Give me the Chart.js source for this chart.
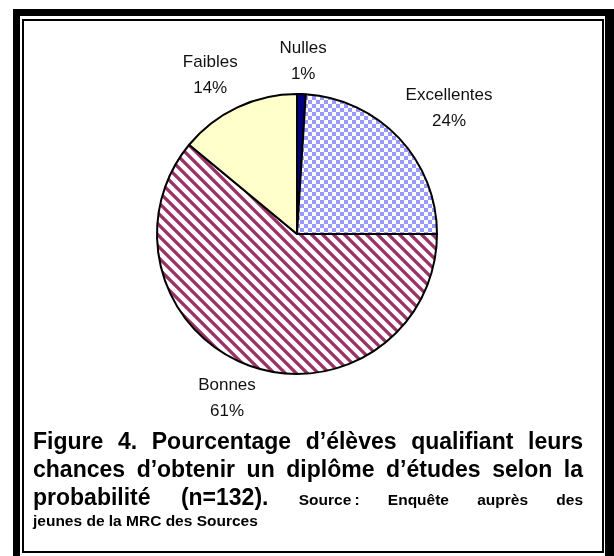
<!DOCTYPE html>
<html lang="fr">
<head>
<meta charset="utf-8">
<script src="https://cdn.jsdelivr.net/npm/chart.js@4.4.1/dist/chart.umd.min.js"></script>
<style>
  html, body { margin: 0; padding: 0; background: #fff; }
  body { width: 614px; height: 556px; position: relative; overflow: hidden; font-family: 'Liberation Sans', Arial, sans-serif; }
  .frame-outer { position: absolute; left: 13px; top: 9px; width: 610px; height: 560px; background: #000; }
  .frame-inner { position: absolute; left: 20px; top: 16px; width: 585px; height: 560px; background: #fff; }
  .frame-line { position: absolute; left: 22px; top: 19px; width: 578px; height: 530px; border: 2px solid #000; }
  .chart-wrap { position: absolute; left: 0; top: 0; width: 614px; height: 468px; }
  .caption { position: absolute; left: 33px; top: 427px; width: 550px; font-weight: bold; color: #000; }
  .caption .ln { font-size: 23px; line-height: 28px; height: 28px; text-align: justify; text-align-last: justify; }
  .caption .sm { font-size: 15.5px; }
  .caption .last { font-size: 15.5px; line-height: 20px; text-align: left; }
</style>
</head>
<body>
<div class="frame-outer"></div>
<div class="frame-inner"></div>
<div class="frame-line"></div>
<div class="chart-wrap"><canvas id="pieChart"></canvas></div>
<div class="caption">
  <div class="ln">Figure 4. Pourcentage d’élèves qualifiant leurs</div>
  <div class="ln">chances d’obtenir un diplôme d’études selon la</div>
  <div class="ln">probabilité (n=132). <span class="sm">Source&#8239;: Enquête auprès des</span></div>
  <div class="last">jeunes de la MRC des Sources</div>
</div>
<script>
// Data (clockwise from 12 o'clock)
const categories = ['Nulles', 'Excellentes', 'Bonnes', 'Faibles'];
const shares = [1, 24, 61, 14];

const lineGap = 26;

// 4px blue / white checkerboard
function checkerPattern(ctx) {
  const c = document.createElement('canvas');
  c.width = 8; c.height = 8;
  const g = c.getContext('2d');
  g.fillStyle = '#fff';
  g.fillRect(0, 0, 8, 8);
  g.fillStyle = '#9999ff';
  g.fillRect(0, 0, 4, 4);
  g.fillRect(4, 4, 4, 4);
  return ctx.createPattern(c, 'repeat');
}

// maroon diagonal stripes running down-right
function stripePattern(ctx) {
  const s = 11;
  const c = document.createElement('canvas');
  c.width = s; c.height = s;
  const g = c.getContext('2d');
  const img = g.createImageData(s, s);
  for (let y = 0; y < s; y++) {
    for (let x = 0; x < s; x++) {
      const d = (((x - y) % s) + s) % s;
      const perp = Math.min(d, s - d) / Math.SQRT2;
      const a = Math.max(0, Math.min(1, 2.2 - perp));
      const i = (y * s + x) * 4;
      img.data[i] = Math.round(255 + (0x99 - 255) * a);
      img.data[i + 1] = Math.round(255 + (0x33 - 255) * a);
      img.data[i + 2] = Math.round(255 + (0x66 - 255) * a);
      img.data[i + 3] = 255;
    }
  }
  g.putImageData(img, 0, 0);
  return ctx.createPattern(c, 'repeat');
}

// two-line labels outside each slice, box corner hooked on the slice's mid angle
const sliceLabels = {
  id: 'sliceLabels',
  afterDatasetsDraw(chart) {
    const ctx = chart.ctx;
    const arcs = chart.getDatasetMeta(0).data;
    const clamp = v => Math.max(-1, Math.min(1, v));
    ctx.save();
    ctx.font = '17px "Liberation Sans", Arial, sans-serif';
    ctx.fillStyle = '#111';
    ctx.textAlign = 'center';
    ctx.textBaseline = 'middle';
    arcs.forEach((arc, i) => {
      const mid = (arc.startAngle + arc.endAngle) / 2;
      const cos = Math.cos(mid), sin = Math.sin(mid);
      const lines = [categories[i], shares[i] + '%'];
      const w = Math.max(...lines.map(t => ctx.measureText(t).width));
      const h = 48;
      const d = arc.outerRadius + 9;
      const x = arc.x + cos * d + (w / 2) * clamp(cos * 2);
      const y = arc.y + sin * d + (h / 2) * clamp(sin * 2);
      ctx.fillText(lines[0], x, y - lineGap / 2);
      ctx.fillText(lines[1], x, y + lineGap / 2);
    });
    ctx.restore();
  }
};

function initPie() {
  const el = document.getElementById('pieChart');
  if (!el || typeof Chart === 'undefined') return;
  const ctx = el.getContext('2d');

  return new Chart(el, {
    type: 'pie',
    data: {
      labels: categories,
      datasets: [{
        data: shares,
        backgroundColor: ['#000080', checkerPattern(ctx), stripePattern(ctx), '#ffffcc'],
        borderColor: '#000',
        borderWidth: 2,
        hoverOffset: 0
      }]
    },
    options: {
      responsive: true,
      maintainAspectRatio: false,
      animation: false,
      events: [],
      layout: { padding: { left: 0, right: 20, top: 93, bottom: 93 } },
      plugins: {
        legend: { display: false },
        tooltip: { enabled: false }
      }
    },
    plugins: [sliceLabels]
  });
}

document.addEventListener('DOMContentLoaded', initPie);
</script>
</body>
</html>
